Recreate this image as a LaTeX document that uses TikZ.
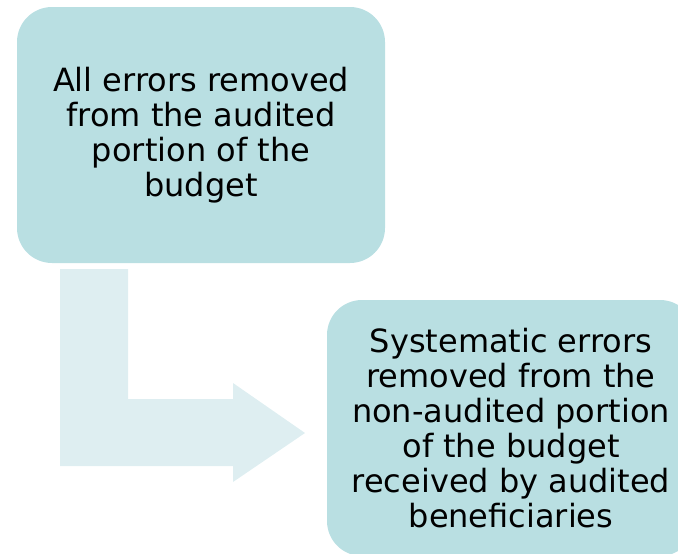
\documentclass[tikz,border=0pt]{standalone}
\usepackage{fontspec}
\setmainfont{DejaVu Sans}
\usepackage{tikz}
\usetikzlibrary{positioning}

\definecolor{boxteal}{HTML}{B9DFE2}
\definecolor{arrowpale}{HTML}{DEEEF1}

\tikzset{
	stagebox/.style={fill=boxteal, rounded corners=35pt, minimum width=368pt,
		minimum height=256pt, align=center, inner sep=0pt,
		font=\fontsize{32}{35}\selectfont},
}

\begin{document}
\begin{tikzpicture}[x=1pt,y=-1pt]
	% Frame
	\useasboundingbox (0,0) rectangle (678,554);
	\clip (0,0) rectangle (678,554);
	
	% Boxes
	\node[stagebox] (audited) at (201,135) {All errors removed\\from the audited\\portion of the\\budget};
	\node[stagebox] (nonaudited) at (511,428) {Systematic errors\\removed from the\\non-audited portion\\of the budget\\received by audited\\beneficiaries};
	
	% bent arrow
	\coordinate (a1) at (60,269);
	\coordinate (a2) at (128,269);
	\coordinate (a3) at (128,399);
	\coordinate (a4) at (233,399);
	\coordinate (a5) at (233,383);
	\coordinate (tip) at (305,433);
	\coordinate (a6) at (233,482);
	\coordinate (a7) at (233,466);
	\coordinate (a8) at (60,466);
	\fill[arrowpale] (a1) -- (a2) -- (a3) -- (a4) -- (a5) -- (tip) -- (a6) -- (a7) -- (a8) -- cycle;
\end{tikzpicture}
\end{document}
